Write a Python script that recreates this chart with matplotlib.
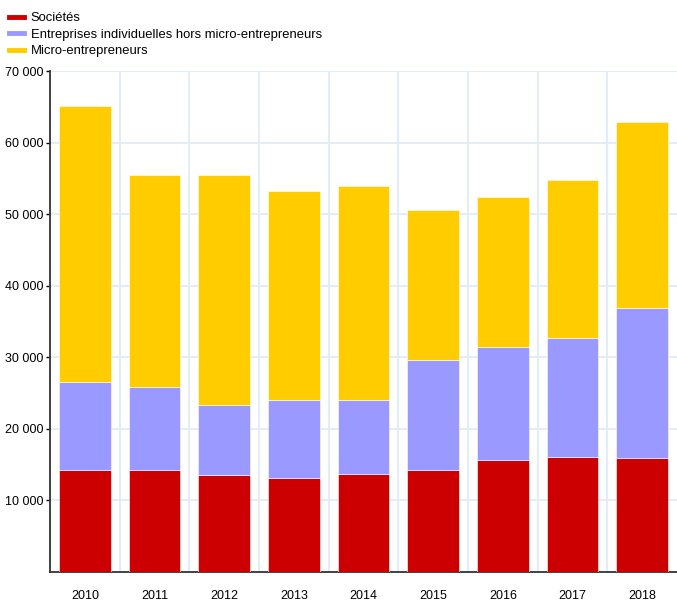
import matplotlib.pyplot as plt
import numpy as np

# Data
years = ["2010", "2011", "2012", "2013", "2014", "2015", "2016", "2017", "2018"]
societes = [14250, 14250, 13550, 13100, 13700, 14250, 15600, 16100, 15900]
entreprises_indiv = [12250, 11550, 9750, 10900, 10300, 15350, 15800, 16600, 21000]
micro = [38600, 29700, 32200, 29200, 29900, 21000, 21000, 22100, 26000]

series_names = ["Sociétés", "Entreprises individuelles hors micro-entrepreneurs", "Micro-entrepreneurs"]
colors = ["#cc0000", "#9999ff", "#ffcc00"]

plt.rcParams["font.family"] = ["Liberation Sans", "DejaVu Sans"]

fig = plt.figure(figsize=(6.77, 6.04), dpi=100)
ax = fig.add_axes([50 / 677, 1 - 572 / 604, 627 / 677, 501 / 604])

x = np.arange(len(years))
bottom = np.zeros(len(years))
for vals, col, name in zip([societes, entreprises_indiv, micro], colors, series_names):
    ax.bar(x, vals, width=0.74, bottom=bottom, color=col, edgecolor="white",
           linewidth=0.4, label=name, zorder=3)
    bottom += np.array(vals)

ax.set_xlim(-0.5, len(years) - 0.5)
ax.set_ylim(0, 70000)
ax.set_yticks(range(10000, 70001, 10000))
ax.set_yticklabels([f"{v // 1000} 000" for v in range(10000, 70001, 10000)])
ax.set_xticks(x)
ax.set_xticklabels(years)

# grid: horizontal at ticks, vertical between categories
for v in range(10000, 70001, 10000):
    ax.axhline(v, color="#e0ecf8", linewidth=1.3, zorder=1)
for b in np.arange(0.5, len(years) - 0.5, 1):
    ax.axvline(b, color="#e0ecf8", linewidth=1.3, zorder=1)

for s in ["top", "right"]:
    ax.spines[s].set_visible(False)
ax.spines["left"].set_color("#333333")
ax.spines["bottom"].set_color("#333333")
ax.spines["left"].set_linewidth(1.3)
ax.spines["bottom"].set_linewidth(1.3)

ax.tick_params(axis="y", length=3, width=1, labelsize=9, pad=2)
ax.tick_params(axis="x", length=0, labelsize=9, pad=13)

# legend in top-left
handles = [plt.Line2D([0], [0], color=c, linewidth=3.5) for c in colors]
fig.legend(handles, series_names, loc="upper left", bbox_to_anchor=(0.0, 0.995),
           frameon=False, fontsize=9.4, handlelength=1.1, handletextpad=0.55,
           labelspacing=0.33, borderaxespad=0.3)

fig.savefig("out.png", dpi=100)
